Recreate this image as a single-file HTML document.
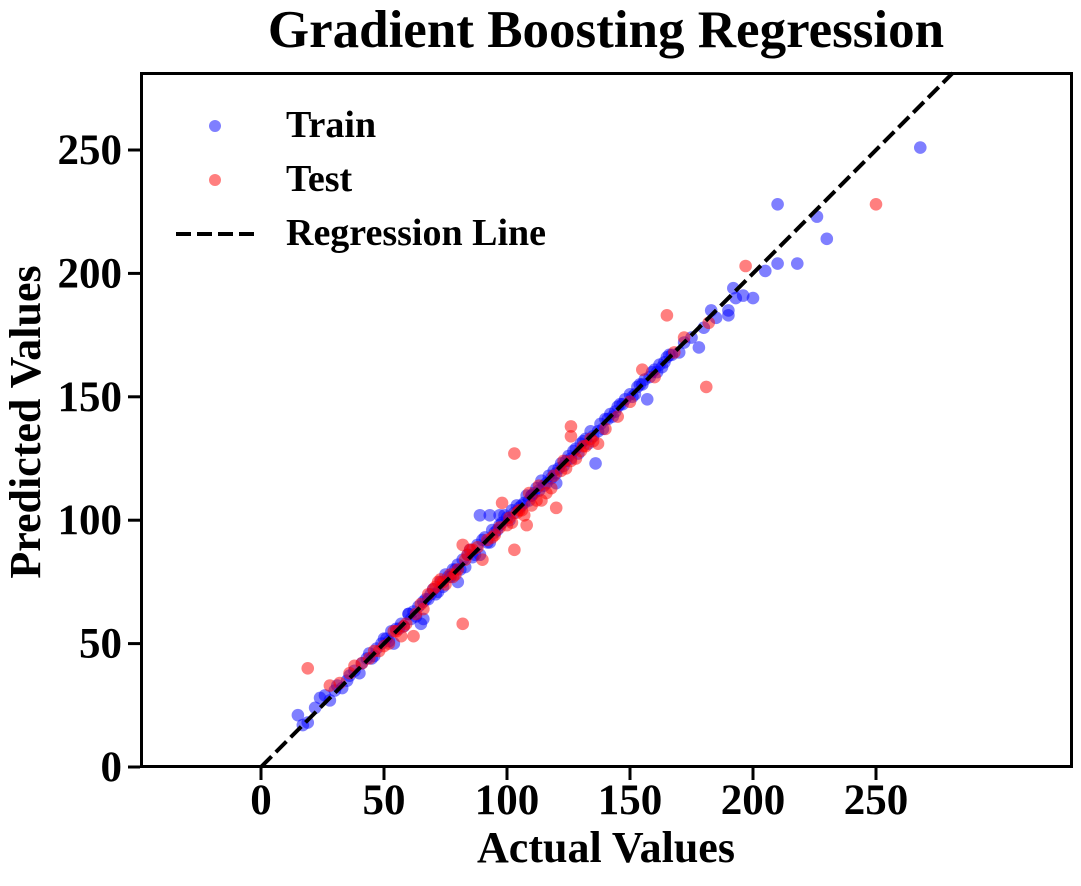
<!DOCTYPE html>
<html><head><meta charset="utf-8"><style>
html,body{margin:0;padding:0;background:#fff;}
svg text{font-family:"Liberation Serif",serif;font-weight:bold;fill:#000;}
</style></head><body>
<svg id="chart" width="1081" height="881" xmlns="http://www.w3.org/2000/svg">
<text x="606" y="47" font-size="53" text-anchor="middle">Gradient Boosting Regression</text>
<text x="606" y="862" font-size="44" text-anchor="middle">Actual Values</text>
<text x="0" y="0" font-size="44" text-anchor="middle" transform="translate(40,422) rotate(-90)">Predicted Values</text>
<g id="xticks"></g>
<g id="yticks"></g>
<g id="plot"></g>
<rect x="141.5" y="73.5" width="930" height="693" fill="none" stroke="#000" stroke-width="3"/>
<g>
<circle cx="215" cy="126" r="6" fill="#0000ff" fill-opacity="0.5"/>
<text x="286" y="137" font-size="38">Train</text>
<circle cx="215" cy="180" r="6" fill="#ff0000" fill-opacity="0.5"/>
<text x="286" y="191" font-size="38">Test</text>
<line x1="176" y1="234" x2="256" y2="234" stroke="#000" stroke-width="4" stroke-dasharray="15,6"/>
<text x="286" y="245" font-size="38">Regression Line</text>
</g>
</svg>
<script>
const xTicks=[0,50,100,150,200,250];
const yTicks=[0,50,100,150,200,250];
const trainX=[15,17,19,22,24,26,28,30,31,33,35,36,38,40,41,43,44,46,47,49,50,52,53,54,55,57,58,60,61,62,64,65,66,68,69,70,72,73,74,75,77,78,80,81,82,84,85,86,88,89,90,91,93,94,95,97,98,99,100,102,103,104,105,107,108,109,110,112,113,114,115,117,118,119,120,122,123,125,126,128,129,130,132,133,134,135,136,138,139,140,142,143,145,146,148,150,151,153,155,156,157,158,160,162,163,165,167,170,172,175,178,180,183,185,190,190,192,193,196,200,205,210,210,218,226,230,268,89,93,97,110,120,60,66,80,45,51,56,63,67,71,76,79,83,87,92,96,101,106,111,116,121,124,127,131,137,141,144,147,152,154,159,161,164,166];
const trainY=[21,17,18,24,28,29,27,31,33,32,35,37,39,38,42,44,46,45,48,50,52,51,55,50,56,58,57,62,60,63,65,58,67,68,70,72,71,75,73,78,77,80,82,80,84,86,88,85,90,86,92,93,91,96,95,98,99,102,101,104,103,106,105,107,110,108,110,113,112,116,114,118,117,120,119,123,122,126,125,129,127,131,133,131,136,134,123,139,137,141,143,142,146,147,149,151,150,154,155,157,149,158,161,163,162,166,167,168,172,174,170,178,185,182,183,185,194,190,191,190,201,204,228,204,223,214,251,102,102,102,110,115,62,60,75,44,52,56,61,68,70,77,80,81,86,91,96,100,106,111,115,121,124,128,132,136,141,144,147,151,155,160,160,164,167];
const testX=[19,28,32,36,38,41,44,48,52,55,57,59,62,63,66,68,70,72,73,75,77,79,80,82,84,85,88,90,92,95,97,98,100,102,103,104,105,107,108,110,112,114,116,118,120,122,124,126,128,130,132,134,137,140,145,150,155,160,165,168,172,181,182,197,250,82,103,126,126,46,50,54,58,65,71,74,78,83,86,94,101,106,109,113,119,123,131,135];
const testY=[40,33,34,38,41,42,44,47,50,55,53,58,53,62,64,70,72,75,76,74,78,78,80,58,86,88,89,84,92,94,97,107,98,99,88,103,104,102,98,106,108,108,111,113,105,120,121,124,125,128,130,133,131,137,142,148,161,158,183,168,174,154,180,203,228,90,127,138,134,47,49,55,57,66,73,75,77,84,88,93,101,104,111,114,118,124,130,132];
const ox=261,oy=767,sx=2.46,sy=2.468;
const X=v=>ox+v*sx, Y=v=>oy-v*sy;
const NS="http://www.w3.org/2000/svg";
function mk(tag,attrs,parent){const e=document.createElementNS(NS,tag);for(const k in attrs)e.setAttribute(k,attrs[k]);parent.appendChild(e);return e;}
const xt=document.getElementById('xticks'),yt=document.getElementById('yticks'),plot=document.getElementById('plot');
xTicks.forEach(t=>{
 const l=mk('line',{x1:X(t),x2:X(t),y1:768,y2:780,stroke:'#000','stroke-width':3},xt);
 
 
 const s=mk('text',{x:X(t),y:814,'font-size':43,'text-anchor':'middle'},xt);s.textContent=t;
 
 
});
yTicks.forEach(t=>{
 const l=mk('line',{x1:128,x2:140,y1:Y(t),y2:Y(t),stroke:'#000','stroke-width':3},yt);
 
 
 const s=mk('text',{x:122,y:Y(t)+14,'font-size':43,'text-anchor':'end'},yt);s.textContent=t;
 
 
});
trainX.forEach((v,i)=>{
 const c=mk('circle',{cx:X(v),cy:Y(trainY[i]),r:6.3,fill:'#0000ff','fill-opacity':0.5},plot);
 
 
});
testX.forEach((v,i)=>{
 const c=mk('circle',{cx:X(v),cy:Y(testY[i]),r:6.3,fill:'#ff0000','fill-opacity':0.5},plot);
 
 
});
const lineEnd=(oy-73)/sy;
const rl=mk('line',{x1:X(0),y1:Y(0),x2:X(lineEnd),y2:Y(lineEnd),stroke:'#000','stroke-width':4,'stroke-dasharray':'15,6'},plot);


</script>
</body></html>
